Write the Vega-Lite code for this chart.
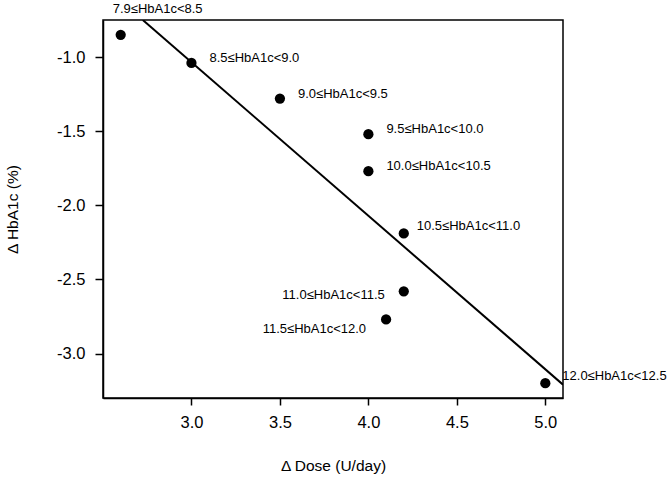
{
  "$schema": "https://vega.github.io/schema/vega-lite/v6.json",
  "autosize": "none",
  "padding": {"left": 103, "top": 20, "right": 109, "bottom": 82},
  "width": 460,
  "height": 378,
  "background": "white",
  "config": {
    "font": "Liberation Sans",
    "view": {"stroke": "black", "strokeWidth": 1.5},
    "axis": {
      "grid": false,
      "domainColor": "black",
      "domainWidth": 1.5,
      "tickColor": "black",
      "tickWidth": 1.5,
      "labelColor": "black",
      "titleColor": "black",
      "labelFont": "Liberation Sans",
      "titleFont": "Liberation Sans",
      "labelFontSize": 16.5,
      "titleFontSize": 15.5,
      "titleFontWeight": "normal"
    }
  },
  "datasets": {
    "points": [
      {"dose": 2.6, "hba1c": -0.85, "group": "7.9≤HbA1c<8.5"},
      {"dose": 3.0, "hba1c": -1.04, "group": "8.5≤HbA1c<9.0"},
      {"dose": 3.5, "hba1c": -1.28, "group": "9.0≤HbA1c<9.5"},
      {"dose": 4.0, "hba1c": -1.52, "group": "9.5≤HbA1c<10.0"},
      {"dose": 4.0, "hba1c": -1.77, "group": "10.0≤HbA1c<10.5"},
      {"dose": 4.2, "hba1c": -2.19, "group": "10.5≤HbA1c<11.0"},
      {"dose": 4.2, "hba1c": -2.58, "group": "11.0≤HbA1c<11.5"},
      {"dose": 4.1, "hba1c": -2.77, "group": "11.5≤HbA1c<12.0"},
      {"dose": 5.0, "hba1c": -3.2, "group": "12.0≤HbA1c<12.5"}
    ],
    "fit": [
      {"dose": 2.725, "hba1c": -0.75},
      {"dose": 5.1, "hba1c": -3.21}
    ]
  },
  "encoding": {
    "x": {
      "field": "dose", "type": "quantitative",
      "scale": {"domain": [2.5, 5.1], "nice": false, "zero": false},
      "axis": {"values": [3.0, 3.5, 4.0, 4.5, 5.0], "format": ".1f", "title": "Δ Dose (U/day)", "tickSize": 7, "labelPadding": 9, "titlePadding": 28}
    },
    "y": {
      "field": "hba1c", "type": "quantitative",
      "scale": {"domain": [-3.3, -0.75], "nice": false, "zero": false},
      "axis": {"values": [-1.0, -1.5, -2.0, -2.5, -3.0], "format": ".1f", "labelExpr": "replace(datum.label, '−', '-')", "title": "Δ HbA1c (%)", "tickSize": 8, "labelPadding": 10, "titlePadding": 36}
    }
  },
  "layer": [
    {
      "data": {"name": "fit"},
      "mark": {"type": "line", "color": "black", "strokeWidth": 2, "clip": true}
    },
    {
      "data": {"name": "points"},
      "mark": {"type": "circle", "color": "black", "opacity": 1, "size": 105}
    },
    {
      "data": {"name": "points"},
      "transform": [{"filter": {"field": "group", "equal": "7.9≤HbA1c<8.5"}}],
      "mark": {"type": "text", "align": "left", "baseline": "middle", "dx": -8, "dy": -26, "fontSize": 13, "color": "black"},
      "encoding": {"text": {"field": "group"}}
    },
    {
      "data": {"name": "points"},
      "transform": [{"filter": {"field": "group", "oneOf": ["8.5≤HbA1c<9.0", "9.0≤HbA1c<9.5", "9.5≤HbA1c<10.0", "10.0≤HbA1c<10.5"]}}],
      "mark": {"type": "text", "align": "left", "baseline": "middle", "dx": 18, "dy": -5, "fontSize": 13, "color": "black"},
      "encoding": {"text": {"field": "group"}}
    },
    {
      "data": {"name": "points"},
      "transform": [{"filter": {"field": "group", "equal": "10.5≤HbA1c<11.0"}}],
      "mark": {"type": "text", "align": "left", "baseline": "middle", "dx": 13, "dy": -7, "fontSize": 13, "color": "black"},
      "encoding": {"text": {"field": "group"}}
    },
    {
      "data": {"name": "points"},
      "transform": [{"filter": {"field": "group", "equal": "12.0≤HbA1c<12.5"}}],
      "mark": {"type": "text", "align": "left", "baseline": "middle", "dx": 17, "dy": -7, "fontSize": 13, "color": "black"},
      "encoding": {"text": {"field": "group"}}
    },
    {
      "data": {"name": "points"},
      "transform": [{"filter": {"field": "group", "equal": "11.0≤HbA1c<11.5"}}],
      "mark": {"type": "text", "align": "right", "baseline": "middle", "dx": -19, "dy": 4, "fontSize": 13, "color": "black"},
      "encoding": {"text": {"field": "group"}}
    },
    {
      "data": {"name": "points"},
      "transform": [{"filter": {"field": "group", "equal": "11.5≤HbA1c<12.0"}}],
      "mark": {"type": "text", "align": "right", "baseline": "middle", "dx": -20, "dy": 10, "fontSize": 13, "color": "black"},
      "encoding": {"text": {"field": "group"}}
    }
  ]
}
